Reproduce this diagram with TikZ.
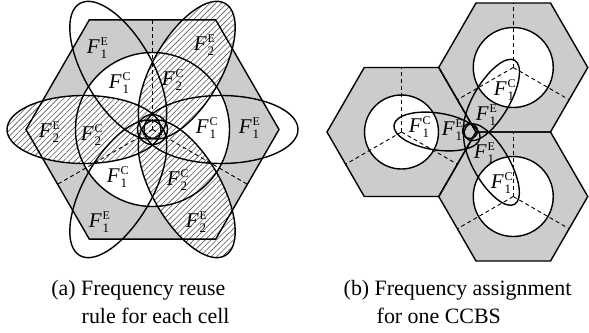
\documentclass[tikz,border=0pt]{standalone}
\usepackage{fontspec}
\setmainfont{Liberation Serif}
\usetikzlibrary{shapes.geometric,patterns.meta}
\definecolor{cellgray}{gray}{0.8}
\newcommand\freq[2]{\textit{F}\kern0.6pt\rlap{\raisebox{0.36em}{\fontsize{12}{12}\selectfont #2}}%
  \raisebox{-0.25em}{\fontsize{13}{13}\selectfont #1}}
\tikzset{
  cellhex/.style={regular polygon,regular polygon sides=6,minimum size=#1,
    inner sep=0pt,outer sep=0pt,fill=cellgray},
  sector/.style={line width=0.9bp,dash pattern=on 4bp off 3bp},
  hatched/.style={fill=white,postaction={pattern={Lines[angle=45,distance=4bp,line width=0.6bp]},pattern color=black!65}},
  lbl/.style={font=\fontsize{21}{21}\selectfont,inner sep=0pt},
  captext/.style={font=\fontsize{22}{28}\selectfont,inner sep=0pt,anchor=base west}
}
\begin{document}
\begin{tikzpicture}[x=1bp,y=1bp,line width=1.4bp]
\useasboundingbox (0,0) rectangle (589,332);

% (a) reuse rule inside one cell
\coordinate (A) at (152.5,202.5);
\node[cellhex=253bp] (cellA) at (A) {};
\fill[white] (A) circle[radius=77];
\foreach \a in {60,180,300}
  \fill[hatched,shift={(A)},rotate=\a] (68.5,0) ellipse[x radius=77,y radius=34];
\foreach \a in {90,210,330}
  \draw[sector] (A) -- ++(\a:109.5);
\draw (cellA.corner 1) \foreach \k in {2,...,6}{-- (cellA.corner \k)} -- cycle;
\draw (A) circle[radius=77];
\foreach \a in {0,60,...,300}
  \draw[shift={(A)},rotate=\a] (68.5,0) ellipse[x radius=77,y radius=34];
\draw (A) circle[radius=15];

\node[lbl] (aTL) at (97,284) {\freq{1}{E}};
\node[lbl] (aTR) at (204,287) {\freq{2}{E}};
\node[lbl] (aUL) at (119,249) {\freq{1}{C}};
\node[lbl] (aUR) at (172,252) {\freq{2}{C}};
\node[lbl] (aL) at (49,200) {\freq{2}{E}};
\node[lbl] (aLi) at (91,197) {\freq{2}{C}};
\node[lbl] (aRi) at (206,204) {\freq{1}{C}};
\node[lbl] (aR) at (249,204) {\freq{1}{E}};
\node[lbl] (aLL) at (117,155) {\freq{1}{C}};
\node[lbl] (aLR) at (177,152) {\freq{2}{C}};
\node[lbl] (aBL) at (99,110) {\freq{1}{E}};
\node[lbl] (aBR) at (196,110) {\freq{2}{E}};

% (b) three cells round one CCBS
\coordinate (V) at (476,200);
\coordinate (B1) at (401.5,200);
\coordinate (B2) at (513.25,264.5);
\coordinate (B3) at (513.25,135.5);
\foreach \c in {1,2,3}
  \node[cellhex=149bp] (cellB\c) at (B\c) {};
\fill[white] (B1) circle[radius=37];
\fill[white] (B2) circle[radius=40];
\fill[white] (B3) circle[radius=40];
\foreach \c in {1,2,3}
  \foreach \a in {90,210,330}
    \draw[sector] (B\c) -- ++(\a:64.5);
\foreach \c in {1,2,3}
  \draw (cellB\c.corner 1) \foreach \k in {2,...,6}{-- (cellB\c.corner \k)} -- cycle;
\draw (B1) circle[radius=37];
\draw (B2) circle[radius=40];
\draw (B3) circle[radius=40];
\draw[shift={(437,200.5)},rotate=-8.6] (0,0) ellipse[x radius=43.5,y radius=18.5];
\draw[shift={(491.5,232)},rotate=59.6] (0,0) ellipse[x radius=46,y radius=18];
\draw[shift={(491.5,167.5)},rotate=-59.9] (0,0) ellipse[x radius=46,y radius=18];
\draw (470,201) circle[radius=7.5];

\node[lbl] (b1c) at (419,205) {\freq{1}{C}};
\node[lbl] (b1e) at (452,202) {\freq{1}{E}};
\node[lbl] (b2c) at (504,242) {\freq{1}{C}};
\node[lbl] (b2e) at (486,217) {\freq{1}{E}};
\node[lbl] (b3e) at (484,179) {\freq{1}{E}};
\node[lbl] (b3c) at (501,149) {\freq{1}{C}};

% captions
\node[captext] (capA1) at (50.7,37) {(a) Frequency reuse};
\node[captext] (capA2) at (81,9) {rule for each cell};
\node[captext] (capB1) at (343,37) {(b) Frequency assignment};
\node[captext] (capB2) at (376,9) {for one CCBS};
\end{tikzpicture}
\end{document}
